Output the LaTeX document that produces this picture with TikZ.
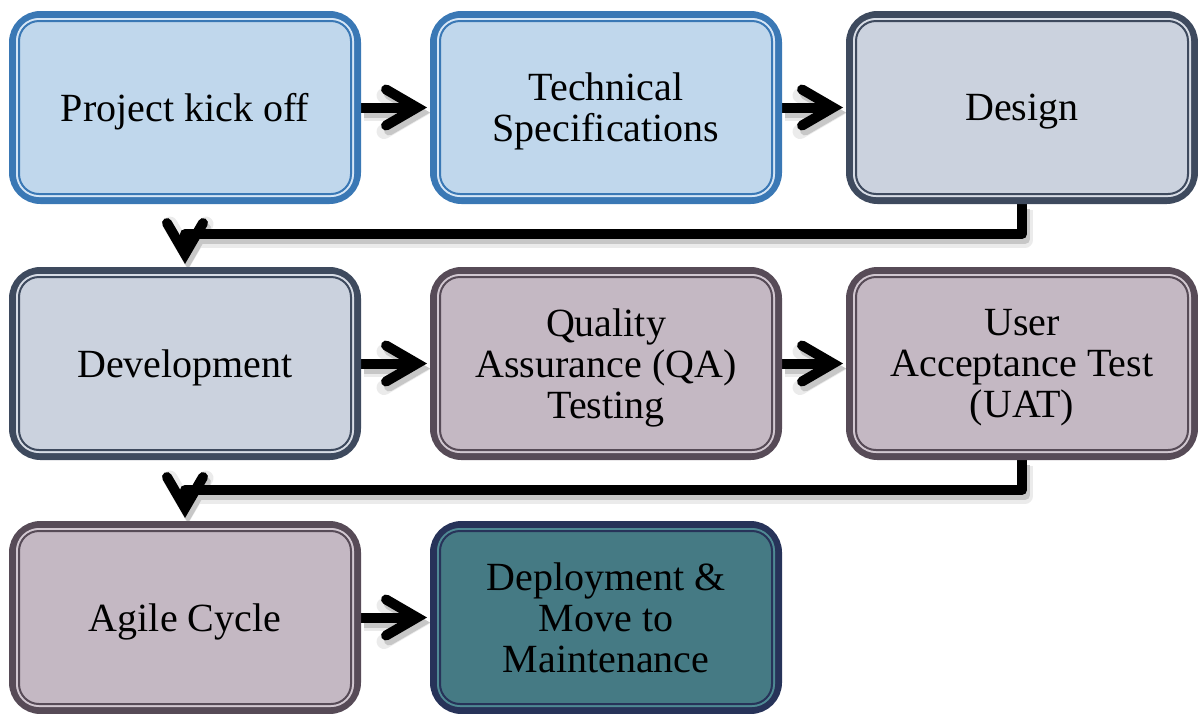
\documentclass[tikz,border=0pt]{standalone}
\usepackage{fontspec}
\setmainfont{Liberation Serif}
\usetikzlibrary{arrows.meta,backgrounds}
\definecolor{blueB}{HTML}{3A78B5}
\definecolor{blueF}{HTML}{C0D7EC}
\definecolor{blueS}{HTML}{D6E6F6}
\definecolor{slateB}{HTML}{3E4A5E}
\definecolor{slateF}{HTML}{CBD2DE}
\definecolor{slateS}{HTML}{D8DDE6}
\definecolor{mauveB}{HTML}{574B57}
\definecolor{mauveF}{HTML}{C4B8C3}
\definecolor{mauveS}{HTML}{D2C8D1}
\definecolor{tealB}{HTML}{273359}
\definecolor{tealF}{HTML}{457A84}
\definecolor{tealS}{HTML}{4F8A94}
\tikzset{
  stepbox/.style={draw, line width=7pt, rounded corners=28pt,
    minimum width=345pt, minimum height=186pt, inner sep=0pt,
    align=center, font=\fontsize{40}{41}\selectfont, text=black, text depth=0pt},
  innerline/.style={line width=2pt},
  conn/.style={line width=10pt, line join=round, shorten >=3pt,
    -{Straight Barb[length=31pt,width=36pt,line cap=round,line join=miter]}},
  connshadowA/.style={conn, draw=black!8, line width=15pt, transform canvas={shift={(3,6)}}},
  connshadowB/.style={conn, draw=black!22, line width=10pt, transform canvas={shift={(3,5)}}},
}
\newcommand{\phasebox}[5]{%
  \node[stepbox, draw=#4B, fill=#4F] (#1) at (#2,#3) {#5};
  \draw[innerline, draw=#4S, rounded corners=22pt]
    ([shift={(8,8)}]#1.north west) rectangle ([shift={(-8,-8)}]#1.south east);
  \draw[innerline, draw=#4B, rounded corners=20pt]
    ([shift={(10,10)}]#1.north west) rectangle ([shift={(-10,-10)}]#1.south east);
}
\newcommand{\flowarrow}[1]{%
  \draw[connshadowA] #1; \draw[connshadowB] #1; \draw[conn] #1;
}
\begin{document}
\begin{tikzpicture}[x=1pt,y=-1pt]
\useasboundingbox (0,0) rectangle (1198,713);
\phasebox{kick}{185}{107.5}{blue}{Project kick off}
\phasebox{tech}{606}{107.5}{blue}{Technical\\Specifications}
\phasebox{design}{1022}{107.5}{slate}{Design}
\phasebox{dev}{185}{363.5}{slate}{Development}
\phasebox{qa}{606}{363.5}{mauve}{Quality\\Assurance (QA)\\Testing}
\phasebox{uat}{1022}{363.5}{mauve}{User\\Acceptance Test\\(UAT)}
\phasebox{agile}{185}{617.5}{mauve}{Agile Cycle}
\phasebox{deploy}{606}{617.5}{teal}{Deployment \&\\Move to\\Maintenance}
\begin{scope}[on background layer]
\flowarrow{(kick) -- (tech)}
\flowarrow{(tech) -- (design)}
\flowarrow{(design.south) -- ++(0,30) -| (dev.north)}
\flowarrow{(dev) -- (qa)}
\flowarrow{(qa) -- (uat)}
\flowarrow{(uat.south) -- ++(0,30) -| (agile.north)}
\flowarrow{(agile) -- (deploy)}
\end{scope}
\end{tikzpicture}
\end{document}
